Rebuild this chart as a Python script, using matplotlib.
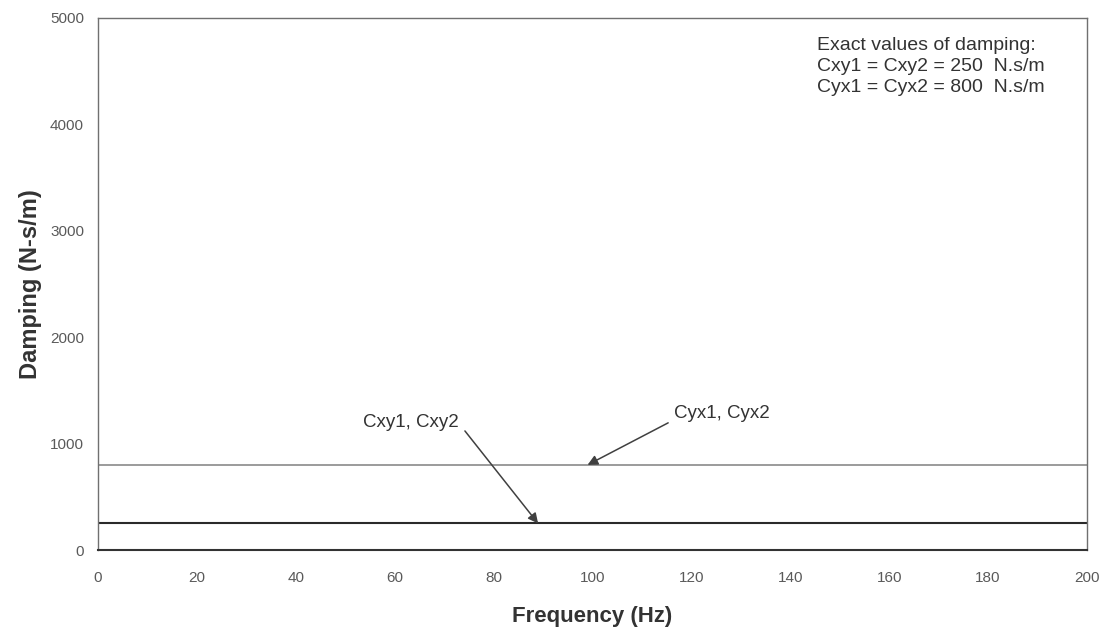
import numpy as np
import matplotlib
matplotlib.use("Agg")
import matplotlib.pyplot as plt

plt.rcParams['font.family'] = ['Liberation Sans', 'DejaVu Sans']

# Frequency range and identified cross damping values (N-s/m)
freq = [0, 200]
cxy = [250, 250]   # Cxy1, Cxy2
cyx = [800, 800]   # Cyx1, Cyx2

x_ticks = list(range(0, 201, 20))
y_ticks = list(range(0, 5001, 1000))


def main():
    fig = plt.figure(figsize=(11.05, 6.33), dpi=100)
    ax = fig.add_axes([0.0887, 0.131, 0.895, 0.841])

    ax.plot(freq, cyx, color='#8a8a8a', lw=1.2)
    ax.plot(freq, cxy, color='#2a2a2a', lw=1.5)

    ax.set_xlim(0, 200)
    ax.set_ylim(0, 5000)
    ax.set_xticks(x_ticks)
    ax.set_yticks(y_ticks)
    ax.tick_params(length=0, labelsize=11, labelcolor='#5a5a5a')
    ax.tick_params(axis='x', pad=15)
    ax.tick_params(axis='y', pad=10)

    for s in ax.spines.values():
        s.set_color('#707070')
        s.set_linewidth(1.0)
    ax.spines['bottom'].set_color('#333333')
    ax.spines['bottom'].set_linewidth(1.5)

    ax.set_xlabel('Frequency (Hz)', fontsize=16, fontweight='bold',
                  color='#333333', labelpad=15)
    ax.set_ylabel('Damping (N-s/m)', fontsize=17, fontweight='bold',
                  color='#333333', labelpad=6)

    arrow = dict(arrowstyle='-|>', color='#404040', lw=1.1, mutation_scale=15,
                 shrinkA=0, shrinkB=0)
    ax.text(73.0, 1195, 'Cxy1, Cxy2', ha='right', va='center',
            fontsize=13.5, color='#333333')
    ax.annotate('', xy=(89, cxy[0]), xytext=(74.2, 1119), arrowprops=arrow)
    ax.text(116.5, 1280, 'Cyx1, Cyx2', ha='left', va='center',
            fontsize=13.5, color='#333333')
    ax.annotate('', xy=(99, cyx[0]), xytext=(115.3, 1195), arrowprops=arrow)

    ax.text(145.5, 4820,
            'Exact values of damping:\n'
            f'Cxy1 = Cxy2 = {cxy[0]}  N.s/m\n'
            f'Cyx1 = Cyx2 = {cyx[0]}  N.s/m',
            ha='left', va='top', fontsize=14, color='#333333',
            linespacing=1.3)

    fig.savefig('out.png', dpi=100)


main()
